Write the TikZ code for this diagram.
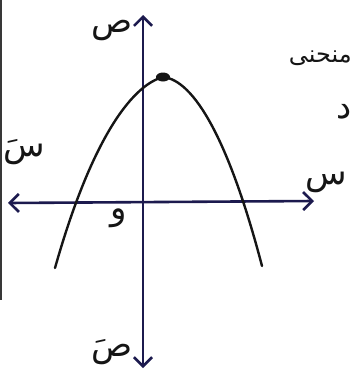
\documentclass[tikz,border=0pt]{standalone}
\usepackage{fontspec}
\usepackage{xcolor}
\usepackage{tikz}
\usetikzlibrary{arrows.meta,positioning}
\TeXXeTstate=1
\newfontfamily\arabicfont[Script=Arabic]{DejaVu Sans}
\definecolor{AXnavy}{HTML}{1C1A4E}
\definecolor{INKblack}{HTML}{151515}

\tikzset{
  axis/.style={AXnavy, line width=2.6pt, {Straight Barb[length=9pt,width=18pt]}-{Straight Barb[length=9pt,width=18pt]}},
  curve/.style={INKblack, line width=2.4pt, line cap=round},
  lbl/.style={INKblack, font=\arabicfont\fontsize{34}{34}\selectfont, inner sep=0pt}
}

\begin{document}
\begin{tikzpicture}[x=1pt,y=-1pt]
  \useasboundingbox (0,0) rectangle (355,380);
  \fill[white] (0,0) rectangle (355,380);
  % scan edge
  \draw[INKblack!85, line width=2.5pt] (1,0) -- (1,300);

  % axes
  \coordinate (ytop) at (143,15);
  \coordinate (ybot) at (143,368);
  \coordinate (xleft) at (8,203);
  \coordinate (xright) at (314,201);
  \draw[axis] (ybot) -- (ytop);
  \draw[axis] (xleft) -- (xright);

  % curve
  \coordinate (cleft) at (55,268);
  \coordinate (vertex) at (163,77);
  \coordinate (cright) at (262,266);
  \draw[curve] (cleft) .. controls (90,144) and (130,86) .. (vertex)
    .. controls (194,80) and (229,140) .. (cright);
  \fill[INKblack] (vertex) ellipse [x radius=7pt, y radius=4.5pt];

  % labels
  \node[lbl] (ylab) at (112,30) {\beginR ص\endR};
  \node[lbl] (ynlab) at (112,352) {\beginR صَ\endR};
  \node[lbl] (xnlab) at (24,152) {\beginR سَ\endR};
  \node[lbl] (xlab) at (326,182) {\beginR س\endR};
  \node[lbl] (olab) at (119,218) {\beginR و\endR};
  \node[lbl, anchor=east, font=\arabicfont\fontsize{24}{24}\selectfont] (curvelab) at (352,58) {\beginR منحنى\endR};
  \node[lbl, anchor=east] (fnlab) at (352,112) {\beginR د\endR};
\end{tikzpicture}
\end{document}
